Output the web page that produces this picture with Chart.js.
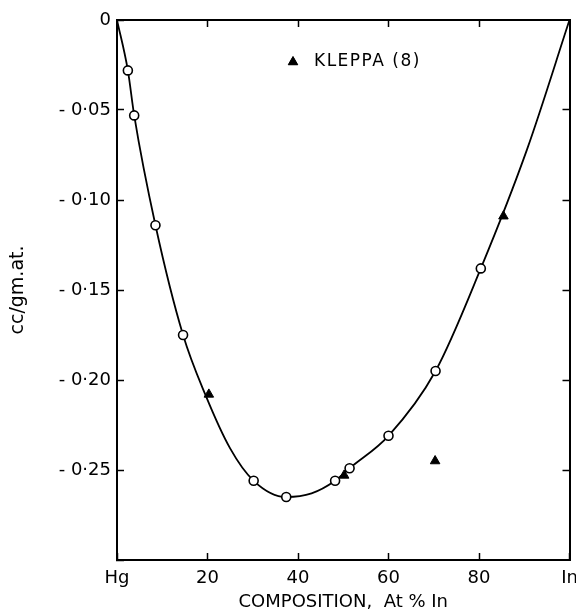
<!DOCTYPE html>
<html>
<head>
<meta charset="utf-8">
<script src="https://cdn.jsdelivr.net/npm/chart.js@4.4.1/dist/chart.umd.min.js"></script>
<style>
html,body{margin:0;padding:0;background:#fff;}
</style>
</head>
<body>
<canvas id="chart" width="576" height="613"></canvas>
<script>
// measured points (open circles), At% In vs cc/gm.at.
const circleX=[2.4,3.8,8.5,14.6,30.2,37.4,48.2,51.4,60.0,70.4,80.4];
const circleY=[-0.028,-0.053,-0.114,-0.175,-0.256,-0.265,-0.256,-0.249,-0.231,-0.195,-0.138];

// Kleppa (8), filled triangles
const kleppaX=[20.3,50.2,70.3,85.4];
const kleppaY=[-0.208,-0.253,-0.245,-0.109];

// smooth curve
const curveX=[0,2.4,3.8,8.5,14.6,19.5,25,30.2,37.4,43,48.2,51.4,60,70.4,80.4,90.6,100];
const curveY=[0,-0.028,-0.053,-0.114,-0.175,-0.208,-0.238,-0.256,-0.265,-0.263,-0.256,-0.249,-0.231,-0.195,-0.138,-0.072,0];

const xTickValues=[0,20,40,60,80,100];
const xTickLabels=["Hg","20","40","60","80","In"];
const yTickValues=[-0.30,-0.25,-0.20,-0.15,-0.10,-0.05,0];
const yTickLabels=["","- 0·25","- 0·20","- 0·15","- 0·10","- 0·05","0"];

const FONT="'DejaVu Sans', sans-serif";

const toPts=(xs,ys)=>xs.map((x,i)=>({x:x,y:ys[i]}));

// legend drawn inside the plot
const legendPlugin={
    id:"kleppaLegend",
    afterDraw(chart){
        const ctx=chart.ctx;
        ctx.save();
        ctx.fillStyle="#000";
        ctx.strokeStyle="#000";
        Chart.helpers.drawPoint(ctx,{pointStyle:"triangle",radius:5.5,borderWidth:1},293,62);
        ctx.fill();
        ctx.font="17px "+FONT;
        ctx.letterSpacing="1.5px";
        ctx.textAlign="left";
        ctx.textBaseline="middle";
        ctx.fillText("KLEPPA (8)",314,62);
        ctx.letterSpacing="0px";
        ctx.restore();
    }
};

const setTicks=(vals)=>(scale)=>{ scale.ticks=vals.map(v=>({value:v})); };

new Chart(document.getElementById("chart"),{
    type:"scatter",
    data:{
        datasets:[
            {
                type:"line",
                data:toPts(curveX,curveY),
                borderColor:"#000",
                borderWidth:1.8,
                pointRadius:0,
                fill:false,
                cubicInterpolationMode:"monotone",
                order:3
            },
            {
                data:toPts(circleX,circleY),
                pointStyle:"circle",
                pointRadius:4.5,
                borderWidth:1.6,
                borderColor:"#000",
                backgroundColor:"#fff",
                order:1
            },
            {
                data:toPts(kleppaX,kleppaY),
                pointStyle:"triangle",
                pointRadius:5.5,
                borderWidth:1,
                borderColor:"#000",
                backgroundColor:"#000",
                order:2
            }
        ]
    },
    options:{
        responsive:false,
        animation:false,
        layout:{padding:{top:20,right:6,left:0,bottom:0}},
        plugins:{legend:{display:false},tooltip:{enabled:false}},
        scales:{
            x:{
                type:"linear",position:"bottom",min:0,max:100,
                afterBuildTicks:setTicks(xTickValues),
                afterFit(s){ s.height=53; s.paddingLeft=0; s.paddingRight=0; },
                grid:{drawOnChartArea:false,tickLength:-7,color:"#000",tickWidth:1.5},
                border:{color:"#000",width:2},
                ticks:{color:"#000",padding:15,font:{family:FONT,size:18},
                    callback:(v,i)=>xTickLabels[i]},
                title:{display:true,text:"COMPOSITION,  At % In",color:"#000",
                    font:{family:FONT,size:18},padding:{top:0,bottom:0}}
            },
            x2:{
                type:"linear",position:"top",min:0,max:100,
                afterBuildTicks:setTicks([20,40,60,80]),
                afterFit(s){ s.height=0; s.paddingLeft=0; s.paddingRight=0; },
                grid:{drawOnChartArea:false,tickLength:-7,color:"#000",tickWidth:1.5},
                border:{color:"#000",width:2},
                ticks:{display:false}
            },
            y:{
                type:"linear",position:"left",min:-0.30,max:0,
                afterBuildTicks:setTicks(yTickValues),
                afterFit(s){ s.width=117; s.paddingTop=0; s.paddingBottom=0; },
                grid:{drawOnChartArea:false,tickLength:-7,color:"#000",tickWidth:1.5},
                border:{color:"#000",width:2},
                ticks:{color:"#000",padding:13,font:{family:FONT,size:18},
                    callback:(v,i)=>yTickLabels[i]},
                title:{display:true,text:"cc/gm.at.",color:"#000",
                    font:{family:FONT,size:19},padding:{top:7,bottom:0}}
            },
            y2:{
                type:"linear",position:"right",min:-0.30,max:0,
                afterBuildTicks:setTicks([-0.25,-0.20,-0.15,-0.10,-0.05]),
                afterFit(s){ s.width=0; s.paddingTop=0; s.paddingBottom=0; },
                grid:{drawOnChartArea:false,tickLength:-7,color:"#000",tickWidth:1.5},
                border:{color:"#000",width:2},
                ticks:{display:false}
            }
        }
    },
    plugins:[legendPlugin]
});
</script>
</body>
</html>
